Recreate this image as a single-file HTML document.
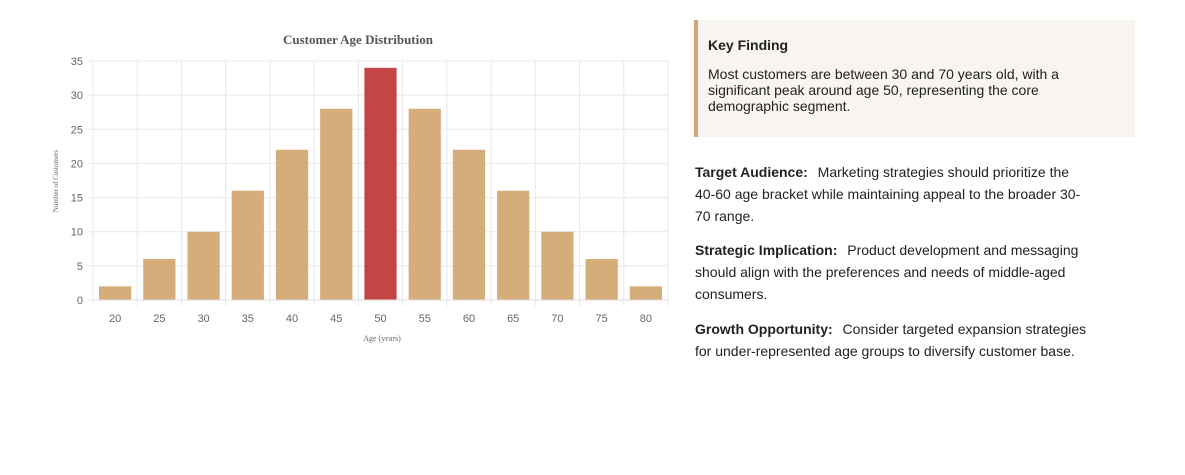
<!DOCTYPE html>
<html><head><meta charset="utf-8"><style>
body{margin:0;width:1185px;height:475px;background:#fff;font-family:"Liberation Sans",sans-serif;position:relative;overflow:hidden}
.kf{position:absolute;left:694px;top:20px;width:441px;height:117px;background:#f8f4f0;border-left:4px solid #d4a373;box-sizing:border-box}
.kf h3{margin:0;position:absolute;left:10px;top:17px;font-size:14px;color:#222}
.kf p{margin:0;position:absolute;left:10px;top:46px;width:400px;font-size:14px;line-height:16px;color:#222}
.pp{position:absolute;left:695px;width:402px;font-size:14px;line-height:22px;color:#222;margin:0}
.pp b{margin-right:6px}
</style></head><body>
<svg id="chart" width="690" height="360" style="position:absolute;left:0;top:0" font-family="Liberation Sans, sans-serif"></svg>
<div class="kf"><h3>Key Finding</h3><p>Most customers are between 30 and 70 years old, with a significant peak around age 50, representing the core demographic segment.</p></div>
<p class="pp" style="top:161px;width:430px"><b>Target Audience:</b> Marketing strategies should prioritize the<br>40-60 age bracket while maintaining appeal to the broader 30-<br>70 range.</p>
<p class="pp" style="top:239px"><b>Strategic Implication:</b> Product development and messaging should align with the preferences and needs of middle-aged consumers.</p>
<p class="pp" style="top:318px"><b>Growth Opportunity:</b> Consider targeted expansion strategies for under-represented age groups to diversify customer base.</p>
<script>
const categories=["20","25","30","35","40","45","50","55","60","65","70","75","80"];
const counts=[2,6,10,16,22,28,34,28,22,16,10,6,2];
const yTicks=[0,5,10,15,20,25,30,35];
const highlight="50";
const svg=document.getElementById('chart');
const NS="http://www.w3.org/2000/svg";
const L=93,R=668,T=61,B=300,yMax=35;
const bw=(R-L)/categories.length;
const y=v=>B-(v/yMax)*(B-T);
const x=i=>L+i*bw;
function mk(t,a,txt){const e=document.createElementNS(NS,t);for(const k in a)e.setAttribute(k,a[k]);if(txt!==undefined)e.textContent=txt;svg.appendChild(e);return e;}
yTicks.forEach(v=>{
 const g=mk('line',{x1:L-5,x2:R,y1:y(v),y2:y(v),stroke:'#e8e8e8'});
 
 
 const t=mk('text',{x:L-10,y:y(v)+4,'text-anchor':'end','font-size':11,fill:'#666'},v);
 
 
});
for(let i=0;i<=categories.length;i++){
 const g=mk('line',{x1:x(i),x2:x(i),y1:T,y2:B+6,stroke:'#e8e8e8'});
 
 
}
categories.forEach((c,i)=>{
 const r=mk('rect',{x:x(i)+6,y:y(counts[i]),width:bw-12,height:B-y(counts[i]),fill:c===highlight?'#c44545':'#d4ad7a'});
 
 
 const t=mk('text',{x:x(i)+bw/2,y:B+22,'text-anchor':'middle','font-size':11,fill:'#666'},c);
 
 
});
const ax=mk('line',{x1:L,x2:R,y1:B,y2:B,stroke:'#ddd'});


const ti=mk('text',{x:358,y:44,'text-anchor':'middle','font-size':13,'font-weight':'bold',fill:'#555','font-family':'Liberation Serif, serif'},'Customer Age Distribution');


const xt=mk('text',{x:382,y:341,'text-anchor':'middle','font-size':8,fill:'#666','font-family':'Liberation Serif, serif'},'Age (years)');


const yt=mk('text',{x:0,y:0,'text-anchor':'middle','font-size':7,fill:'#666','font-family':'Liberation Serif, serif',transform:'translate(58,181) rotate(-90)'},'Number of Customers');


</script>
</body></html>
